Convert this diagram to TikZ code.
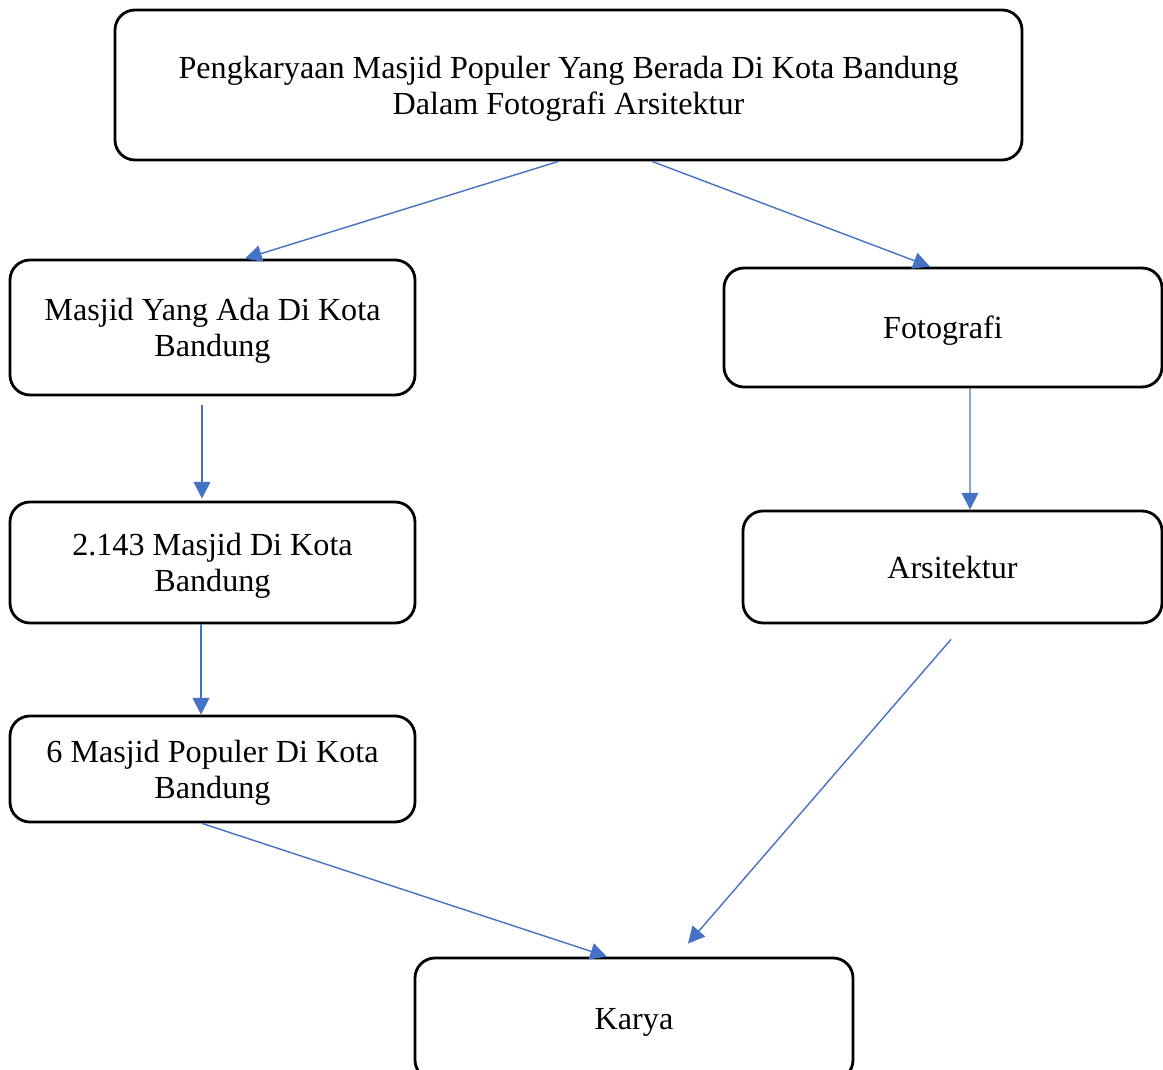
\documentclass[tikz,border=0pt]{standalone}
\usepackage{fontspec}
\setmainfont{Liberation Serif}
\usetikzlibrary{arrows.meta, calc}

\definecolor{panah}{HTML}{4472C4}

\begin{document}
\begin{tikzpicture}[x=0.02cm, y=-0.02cm,
  kotak/.style={draw, line width=1.6pt, rounded corners=0.4cm, align=center,
    inner sep=0pt, text depth=0pt, font=\fontsize{18.3}{20.4}\selectfont},
  panahbiru/.style={draw=panah, line width=0.8pt, -{Triangle[length=9.5pt,width=9.5pt]}}]
\useasboundingbox (0,0) rectangle (1163,1070);
\node[kotak, minimum width=907*0.02cm, minimum height=150*0.02cm] (judul) at (568.5,85)
  {Pengkaryaan Masjid Populer Yang Berada Di Kota Bandung\\Dalam Fotografi Arsitektur};
\node[kotak, minimum width=405*0.02cm, minimum height=135*0.02cm] (masjid) at (212.5,327.5)
  {Masjid Yang Ada Di Kota\\Bandung};
\node[kotak, minimum width=438*0.02cm, minimum height=119*0.02cm] (foto) at (943,327.5)
  {Fotografi};
\node[kotak, minimum width=405*0.02cm, minimum height=121*0.02cm] (jumlah) at (212.5,562.5)
  {2.143 Masjid Di Kota\\Bandung};
\node[kotak, minimum width=419*0.02cm, minimum height=112*0.02cm] (arsi) at (952.5,567)
  {Arsitektur};
\node[kotak, minimum width=405*0.02cm, minimum height=106*0.02cm] (populer) at (212.5,769)
  {6 Masjid Populer Di Kota\\Bandung};
\node[kotak, minimum width=438*0.02cm, minimum height=122*0.02cm] (karya) at (634,1019)
  {Karya};
\draw[panahbiru] ([xshift=-10*0.02cm]judul.south) -- ([xshift=32.5*0.02cm]masjid.north);
\draw[panahbiru] ([xshift=83.5*0.02cm]judul.south) -- ([xshift=-13*0.02cm]foto.north);
\draw[panahbiru] ([xshift=-10.5*0.02cm, yshift=-9*0.02cm]masjid.south) -- ([xshift=-10.5*0.02cm, yshift=2*0.02cm]jumlah.north);
\draw[panahbiru] ([xshift=27*0.02cm]foto.south) -- ([xshift=17.5*0.02cm]arsi.north);
\draw[panahbiru] ([xshift=-11.5*0.02cm]jumlah.south) -- ([xshift=-11.5*0.02cm]populer.north);
\draw[panahbiru] ([xshift=-10.5*0.02cm]populer.south) -- ([xshift=-27*0.02cm]karya.north);
\draw[panahbiru] ([xshift=-1.5*0.02cm, yshift=-15*0.02cm]arsi.south) -- ([xshift=54*0.02cm, yshift=13*0.02cm]karya.north);
\end{tikzpicture}
\end{document}
